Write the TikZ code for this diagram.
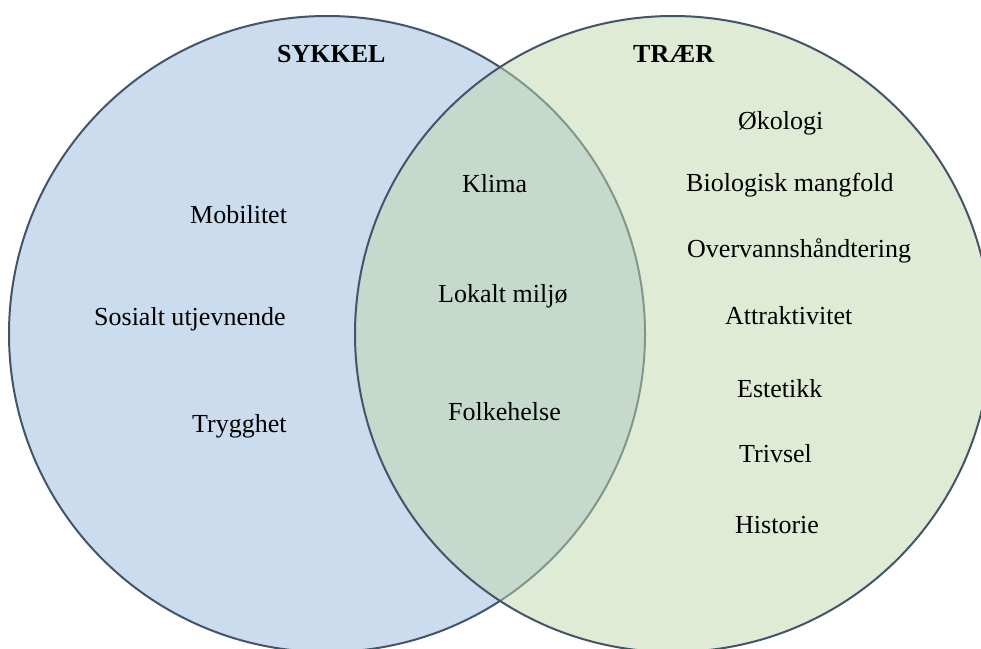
\documentclass[tikz,border=0pt]{standalone}
\usepackage{fontspec}
\setmainfont{Liberation Serif}
\definecolor{bluefill}{HTML}{CBDCEE}
\definecolor{greenfill}{HTML}{C1D9AD}
\definecolor{edge}{HTML}{44546A}
\begin{document}
\begin{tikzpicture}[x=1pt,y=-1pt,
  lbl/.style={anchor=base west,inner sep=0pt,font=\fontsize{26}{30}\selectfont},
  ttl/.style={lbl,font=\fontsize{26}{30}\selectfont\bfseries},
  ring/.style={draw=edge,line width=2pt}]
\useasboundingbox (0,0) rectangle (981,648);
\clip (0,0) rectangle (981,648);
\fill[white] (0,0) rectangle (981,648);
% circles
\fill[bluefill] (327,334) circle[radius=318];
\draw[ring] (327,334) circle[radius=318];
\fill[greenfill,fill opacity=0.5] (673,334) circle[radius=318];
\draw[ring] (673,334) circle[radius=318];
% titles
\node[ttl] (sykkel) at (277,62) {SYKKEL};
\node[ttl] (traer) at (633,62) {TRÆR};
% left
\node[lbl] (mob) at (190,223) {Mobilitet};
\node[lbl] (sos) at (94,325) {Sosialt utjevnende};
\node[lbl] (tryg) at (192,432) {Trygghet};
% middle
\node[lbl] (klima) at (462,192) {Klima};
\node[lbl] (lok) at (438,302) {Lokalt miljø};
\node[lbl] (folk) at (448,420) {Folkehelse};
% right
\node[lbl] (oko) at (738,129) {Økologi};
\node[lbl] (bio) at (686,191) {Biologisk mangfold};
\node[lbl] (over) at (687,257) {Overvannshåndtering};
\node[lbl] (attr) at (725,324) {Attraktivitet};
\node[lbl] (est) at (737,397) {Estetikk};
\node[lbl] (triv) at (739,462) {Trivsel};
\node[lbl] (hist) at (735,533) {Historie};
\end{tikzpicture}
\end{document}
